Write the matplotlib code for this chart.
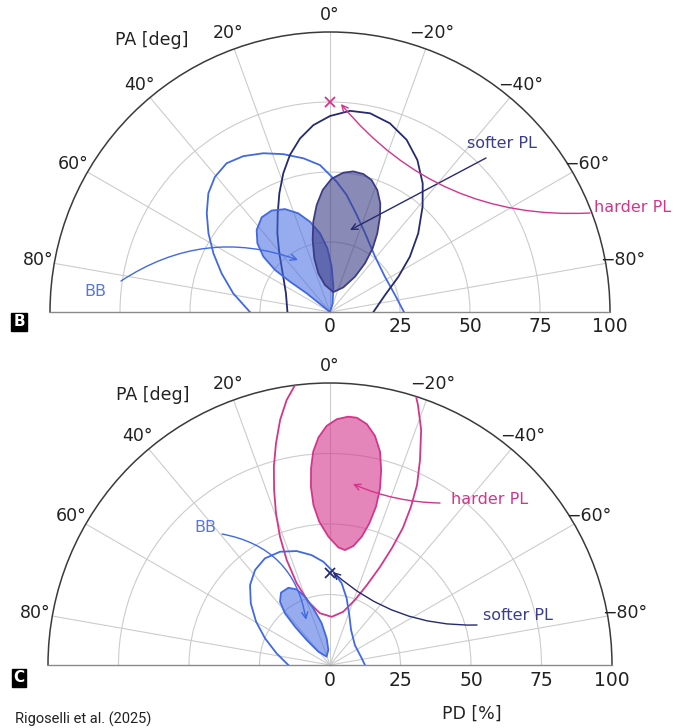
import numpy as np
import matplotlib
matplotlib.use('Agg')
import matplotlib.pyplot as plt
from matplotlib.colors import to_rgba
from matplotlib.transforms import offset_copy

# ---------------- data (PA in deg, PD in %) ----------------
theta_ticks = [-80, -60, -40, -20, 0, 20, 40, 60, 80]
theta_labels = ['\u221280°', '\u221260°', '\u221240°', '\u221220°', '0°', '20°', '40°', '60°', '80°']
r_ticks = [0, 25, 50, 75, 100]
r_labels = ['0', '25', '50', '75', '100']
r_grid = [25, 50, 75]

# Panel B
B_soft_in_pa = [-9.5, 10.5, 16.8, 16.3, 13.5, 10.5, 7.1, 3.4, -0.7, -5.5, -9.4, -13.6, -17.5, -21.2,
                -24.8, -27.7, -31.0, -33.8, -35.7, -35.3, -28.4]
B_soft_in_pd = [7.2, 9.8, 14.4, 20.0, 26.5, 32.8, 38.5, 43.7, 47.6, 50.0, 50.9, 50.7, 49.4, 46.7,
                42.8, 38.4, 32.8, 27.4, 21.4, 15.5, 10.0]
B_soft_out_pa = [90, 67.0, 50.8, 40.8, 33.8, 27.9, 23.1, 18.6, 14.3, 9.8, 5.1, 0, -5.7, -11.4, -17.6,
                 -24.0, -29.9, -35.8, -41.3, -48.3, -55.3, -62.7, -72.8, -90]
B_soft_out_pd = [15.2, 17.1, 21.8, 27.7, 33.8, 39.9, 46.1, 52.3, 57.9, 62.9, 67.0, 70.0, 72.2, 72.4, 70.7,
                 67.3, 62.6, 56.6, 50.1, 42.2, 34.7, 27.5, 20.6, 15.5]
B_bb_in_pa = [0, 51.3, 51.3, 52.8, 52.6, 50.3, 46.6, 41.8, 35.8, 29.9, 23.6, 17.8, 12.5, 7.2, 2.4,
              -2.1, -7.5, -17.1]
B_bb_in_pd = [0, 4.6, 10.7, 17.9, 24.7, 30.9, 35.7, 39.3, 41.7, 41.8, 40.1, 37.0, 33.0, 28.3, 22.8,
              16.2, 9.1, 3.2]
B_bb_out_pa = [90, 79.1, 70.4, 63.3, 57.1, 51.3, 45.7, 40.4, 34.8, 29.1, 22.8, 16.5, 9.8, 3.9, -2.9,
               -8.1, -14.8, -24.0, -39.1, -57.3, -75.3, -90]
B_bb_out_pd = [28.6, 35.2, 41.1, 46.6, 51.7, 56.4, 60.7, 63.4, 64.7, 63.7, 61.5, 58.8, 55.7, 52.6, 46.6,
               42.2, 36.4, 30.8, 25.5, 23.3, 24.0, 26.4]
B_hard_best = (0, 75)

# Panel C
C_hard_in_pa = [-4.2, -1.6, 0.8, 2.9, 4.5, 5.5, 6.1, 5.9, 4.3, 0.7, -4.1, -7.4, -11.1, -13.9, -15.5,
                -16.2, -15.8, -14.7, -13.2, -11.1, -8.7, -6.2]
C_hard_in_pd = [88.3, 87.2, 84.8, 80.8, 75.9, 70.1, 63.6, 57.0, 51.0, 45.5, 41.8, 41.1, 43.0, 46.9, 52.1,
                58.5, 65.1, 71.5, 77.7, 82.8, 86.4, 88.2]
C_hard_out_pa = [6.5, 7.1, 9.3, 11.5, 13.7, 15.8, 17.7, 19.6, 21.3, 22.4, 22.2, 18.9, 11.0, -2.0, -13.8,
                 -21.0, -24.8, -27.0, -27.9, -28.0, -27.1, -25.8, -23.7, -21.2, -18.7, -16.8]
C_hard_out_pd = [104, 100.1, 95.2, 88.7, 80.9, 73.1, 65.2, 57.1, 48.8, 40.3, 31.3, 23.7, 18.7, 17.1, 19.4,
                 24.7, 31.3, 39.0, 46.9, 55.0, 63.0, 70.9, 79.4, 89.4, 97.3, 103]
C_bb_in_pa = [21.8, 41.2, 43.0, 42.4, 41.1, 38.3, 34.1, 28.3, 23.8, 20.1, 16.4, 11.3, 7.1, 6.3]
C_bb_in_pd = [3.2, 6.3, 12.1, 18.4, 24.3, 28.6, 31.0, 31.1, 29.3, 25.8, 20.9, 15.1, 9.5, 5.4]
C_bb_out_pa = [90, 77.7, 67.7, 59.6, 52.1, 45.0, 38.3, 31.4, 23.8, 16.3, 9.5, 3.7, -2.0, -8.1, -14.0,
               -21.1, -31.0, -51.3, -78.1, -90]
C_bb_out_pd = [14.8, 19.4, 24.9, 30.4, 35.6, 40.1, 42.9, 44.3, 43.9, 42.1, 39.5, 36.7, 33.1, 29.3, 24.4,
               19.0, 14.5, 11.3, 11.5, 12.4]
C_soft_best = (0, 32.7)

# ---------------- style ----------------
NAVY = '#262a70'
NAVY_TXT = '#3a3d8c'
BLUE = '#4169e1'
BLUE_TXT = '#5577e3'
PINK = '#d4358c'

W, H = 677, 728
fig = plt.figure(figsize=(W / 100, H / 100), dpi=100)


def fx(x):
    return x / W


def fy(y):
    return 1 - y / H


def make_axes(cx, cy, R):
    S = 2 * R
    left = cx - R
    top = cy - R / 2 - R
    ax = fig.add_axes([left / W, 1 - (top + S) / H, S / W, S / H], projection='polar')
    ax.set_theta_zero_location('N')
    ax.set_theta_direction(1)
    ax.set_thetamin(-90)
    ax.set_thetamax(90)
    ax.set_rlim(0, 100)
    ax.set_thetagrids(theta_ticks, labels=[''] * len(theta_ticks))
    ax.set_rgrids(r_grid, labels=[''] * len(r_grid))
    ax.grid(color='#cccccc', lw=0.8)
    ax.tick_params(length=0)
    ax.spines['polar'].set_color('#3a3a3a')
    ax.spines['polar'].set_linewidth(1.1)
    for s in ('start', 'end'):
        ax.spines[s].set_color('#8a8a8a')
        ax.spines[s].set_linewidth(1.0)
    ax.spines['inner'].set_visible(False)
    for a, lab in zip(theta_ticks, theta_labels):
        ax.text(np.radians(a), 106, lab, ha='center', va='center', fontsize=12.5,
                color='#222222', clip_on=False)
    tr = offset_copy(ax.transData, fig=fig, x=0, y=-15, units='dots')
    for r, lab in zip(r_ticks, r_labels):
        ax.text(np.radians(-90), r, lab, transform=tr, ha='center', va='center',
                fontsize=13.5, color='#222222', clip_on=False)
    return ax


def rad(lst):
    return np.radians(np.asarray(lst, dtype=float))


def fill_contour(ax, pa, pd_, color, alpha, z):
    ax.fill(rad(pa), pd_, facecolor=to_rgba(color, alpha), edgecolor=color, lw=1.3,
            joinstyle='round', zorder=z)


def line_contour(ax, pa, pd_, color, z):
    ax.plot(rad(pa), pd_, color=color, lw=1.3, solid_joinstyle='round', zorder=z)


def arrow(ax, start_px, end_pa, end_pd, color, rad_):
    ax.annotate('', xy=(np.radians(end_pa), end_pd), xycoords='data',
                xytext=(start_px[0], H - start_px[1]), textcoords='figure pixels',
                arrowprops=dict(arrowstyle='->,head_length=0.45,head_width=0.22', color=color,
                                lw=1.0, shrinkA=0, shrinkB=0,
                                connectionstyle=f'arc3,rad={rad_}'),
                annotation_clip=False, zorder=10)


# ---------------- Panel B ----------------
axB = make_axes(330, 312, 280)
line_contour(axB, B_bb_out_pa, B_bb_out_pd, BLUE, 3)
line_contour(axB, B_soft_out_pa, B_soft_out_pd, NAVY, 3)
fill_contour(axB, B_bb_in_pa, B_bb_in_pd, BLUE, 0.55, 4)
fill_contour(axB, B_soft_in_pa, B_soft_in_pd, '#3c3c86', 0.6, 5)
axB.plot(np.radians(B_hard_best[0]), B_hard_best[1], marker='x', color=PINK, ms=7, mew=1.3, zorder=6)
arrow(axB, (121, 281), 31.6, 21.8, BLUE, -0.25)
arrow(axB, (486, 158), -13.7, 30.1, NAVY, 0.0)
arrow(axB, (590, 213), -3.0, 74.4, PINK, -0.25)
fig.text(fx(95), fy(292), 'BB', color=BLUE_TXT, fontsize=11.5, ha='center', va='center')
fig.text(fx(502), fy(143), 'softer PL', color=NAVY_TXT, fontsize=11.5, ha='center', va='center')
fig.text(fx(633), fy(207), 'harder PL', color=PINK, fontsize=11.5, ha='center', va='center')
fig.text(fx(152), fy(40), 'PA [deg]', color='#222222', fontsize=12.5, ha='center', va='center')
fig.text(fx(19), fy(322), 'B', color='white', fontsize=11, fontweight='bold', ha='center', va='center',
         bbox=dict(boxstyle='square,pad=0.12', fc='black', ec='black'))

# ---------------- Panel C ----------------
axC = make_axes(330, 665, 282)
line_contour(axC, C_hard_out_pa, C_hard_out_pd, PINK, 3)
line_contour(axC, C_bb_out_pa, C_bb_out_pd, BLUE, 3)
fill_contour(axC, C_hard_in_pa, C_hard_in_pd, PINK, 0.6, 4)
fill_contour(axC, C_bb_in_pa, C_bb_in_pd, BLUE, 0.55, 5)
axC.plot(np.radians(C_soft_best[0]), C_soft_best[1], marker='x', color=NAVY, ms=7, mew=1.3, zorder=6)
arrow(axC, (222, 534), 28.0, 18.1, BLUE, -0.35)
arrow(axC, (440, 503), -7.2, 64.7, PINK, -0.1)
arrow(axC, (477, 625), -1.8, 33.0, NAVY, -0.2)
fig.text(fx(205), fy(528), 'BB', color=BLUE_TXT, fontsize=11.5, ha='center', va='center')
fig.text(fx(490), fy(499), 'harder PL', color=PINK, fontsize=11.5, ha='center', va='center')
fig.text(fx(518), fy(615), 'softer PL', color=NAVY_TXT, fontsize=11.5, ha='center', va='center')
fig.text(fx(153), fy(395), 'PA [deg]', color='#222222', fontsize=12.5, ha='center', va='center')
fig.text(fx(19), fy(678), 'C', color='white', fontsize=11, fontweight='bold', ha='center', va='center',
         bbox=dict(boxstyle='square,pad=0.12', fc='black', ec='black'))

fig.text(fx(472), fy(714), 'PD [%]', color='#222222', fontsize=12.5, ha='center', va='center')
fig.text(fx(15), fy(727), 'Rigoselli et al. (2025)', color='#222222', fontsize=10.5,
         family='Roboto', ha='left', va='bottom')

fig.savefig('out.png', dpi=100)
